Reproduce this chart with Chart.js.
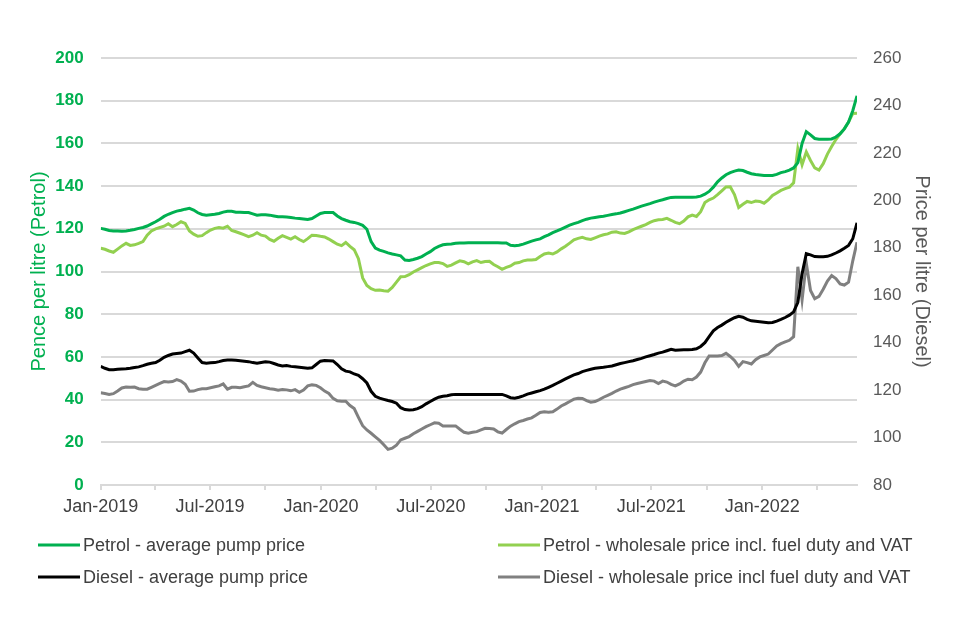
<!DOCTYPE html>
<html>
<head>
<meta charset="utf-8">
<script src="https://cdn.jsdelivr.net/npm/chart.js@4.4.1/dist/chart.umd.min.js"></script>
<style>
  html, body { margin: 0; padding: 0; background: #ffffff; }
  canvas { display: block; }
</style>
</head>
<body>
<canvas id="c" width="960" height="640" style="width:960px;height:640px"></canvas>
<script>
// ---- Data (weekly, Mondays from 7 Jan 2019 to 13 Jun 2022) ----
const firstWeek = '2019-01-07';
const weekCount = 180;

const seriesLabels = [
  'Petrol - average pump price',
  'Petrol - wholesale price incl. fuel duty and VAT',
  'Diesel - average pump price',
  'Diesel - wholesale price incl fuel duty and VAT'
];

const xTickLabels = ['Jan-2019', 'Jul-2019', 'Jan-2020', 'Jul-2020', 'Jan-2021', 'Jul-2021', 'Jan-2022'];

// Petrol, pence per litre (left axis)
const petrolPump = [
  120.2,119.8,119.2,119.0,119.0,118.9,119.0,119.3,119.7,120.2,
  120.6,121.3,122.3,123.3,124.5,125.8,126.8,127.6,128.3,128.7,
  129.2,129.6,128.8,127.5,126.7,126.4,126.6,126.8,127.2,127.8,
  128.2,128.2,127.8,127.8,127.6,127.6,127.0,126.4,126.6,126.6,
  126.4,126.0,125.6,125.6,125.5,125.3,125.0,124.8,124.6,124.4,
  124.8,126.0,127.2,127.6,127.6,127.6,126.0,124.8,124.0,123.3,
  123.0,122.4,121.6,119.8,114.0,111.0,110.0,109.4,108.7,108.2,
  107.8,107.3,105.4,105.2,105.6,106.2,107.0,108.2,109.3,110.8,
  111.8,112.5,112.8,112.9,113.2,113.4,113.4,113.5,113.5,113.5,
  113.5,113.5,113.5,113.5,113.5,113.4,113.4,112.3,112.1,112.3,
  112.8,113.5,114.2,114.8,115.3,116.3,117.2,118.2,119.0,119.9,
  120.8,121.7,122.4,123.0,123.8,124.5,125.0,125.3,125.6,125.9,
  126.3,126.7,127.0,127.4,128.0,128.6,129.2,129.9,130.6,131.2,
  131.8,132.5,133.1,133.6,134.2,134.7,134.8,134.8,134.8,134.8,
  134.8,134.9,135.3,136.2,137.5,139.5,142.0,143.8,145.3,146.3,
  147.0,147.5,147.3,146.5,145.8,145.4,145.2,145.0,145.0,145.0,
  145.5,146.3,146.8,147.5,148.5,151.0,160.0,165.5,164.0,162.3,
  162.0,162.0,162.0,162.1,163.0,164.5,166.8,170.0,175.3,182.3
];

const petrolWholesale = [
  110.9,110.4,109.6,109.0,110.5,112.0,113.2,112.2,112.5,113.2,
  114.0,117.0,119.0,120.0,120.6,121.2,122.4,121.0,122.0,123.3,
  122.5,119.0,117.5,116.5,116.8,118.2,119.4,120.2,120.6,120.3,
  121.2,119.2,118.6,117.9,117.2,116.3,117.0,118.2,117.0,116.6,
  115.0,114.2,115.6,116.8,116.0,115.2,116.3,115.0,114.0,115.4,
  117.0,116.9,116.5,116.2,115.2,114.0,112.8,112.1,113.6,111.8,
  110.2,106.0,97.0,93.5,92.0,91.2,91.3,91.0,90.8,92.5,
  95.0,97.5,97.6,98.5,99.8,100.8,101.8,102.8,103.6,104.2,
  104.2,103.7,102.4,103.0,104.0,105.0,104.6,103.6,104.5,105.1,
  104.2,104.7,104.8,103.3,102.2,101.0,101.9,102.6,103.9,104.2,
  105.0,105.4,105.4,105.6,107.0,108.2,108.6,108.2,109.2,110.6,
  111.8,113.3,114.8,115.5,116.0,115.3,115.0,115.8,116.6,117.2,
  117.6,118.4,118.6,118.0,117.8,118.6,119.6,120.4,121.2,122.0,
  123.0,123.8,124.2,124.4,124.9,124.0,123.0,122.4,123.6,125.6,
  126.4,125.8,128.0,132.3,133.6,134.4,136.0,137.8,139.6,139.7,
  136.0,130.0,131.5,132.8,132.3,133.0,132.8,132.0,133.5,135.6,
  136.8,138.0,138.8,139.5,141.5,157.5,150.0,156.0,152.0,148.5,
  147.5,150.5,155.0,158.5,161.8,164.5,166.8,170.0,174.0,174.1
];

// Diesel, pence per litre (right axis)
const dieselPump = [
  130.0,129.2,128.6,128.6,128.8,128.9,129.0,129.2,129.5,129.8,
  130.3,130.9,131.3,131.6,132.6,133.8,134.6,135.2,135.4,135.6,
  136.2,136.8,135.6,133.5,131.6,131.3,131.5,131.6,132.0,132.5,
  132.7,132.7,132.6,132.4,132.2,132.0,131.6,131.3,131.6,131.9,
  131.8,131.2,130.6,130.2,130.4,130.0,129.8,129.6,129.4,129.2,
  129.4,130.8,132.2,132.5,132.4,132.3,130.8,129.0,128.0,127.7,
  126.8,126.2,124.8,123.0,119.5,117.4,116.6,116.1,115.6,115.2,
  114.5,112.6,111.8,111.6,111.7,112.2,113.0,114.2,115.2,116.2,
  117.0,117.4,117.6,118.0,118.2,118.2,118.2,118.2,118.2,118.2,
  118.2,118.2,118.2,118.2,118.2,118.2,117.6,116.8,116.6,117.0,
  117.6,118.3,118.8,119.3,119.8,120.4,121.2,122.0,122.9,123.8,
  124.7,125.6,126.4,127.0,127.8,128.3,128.8,129.2,129.4,129.6,
  129.9,130.2,130.7,131.2,131.6,132.0,132.4,132.9,133.4,134.0,
  134.5,135.0,135.6,136.0,136.6,137.2,136.8,136.9,137.0,137.0,
  137.1,137.4,138.4,140.0,142.5,145.0,146.4,147.4,148.6,149.6,
  150.5,151.1,150.7,149.8,149.2,149.0,148.8,148.6,148.4,148.5,
  149.1,149.8,150.6,151.6,153.0,157.0,169.0,177.5,177.0,176.3,
  176.2,176.2,176.4,177.0,177.8,178.7,179.8,181.0,183.8,190.5
];

const dieselWholesale = [
  118.9,118.6,118.2,118.5,119.6,120.9,121.3,121.2,121.3,120.6,
  120.4,120.4,121.2,122.0,122.8,123.6,123.4,123.6,124.4,123.8,
  122.5,119.5,119.6,120.2,120.6,120.6,121.0,121.4,121.8,122.6,
  120.4,121.2,121.2,121.0,121.4,121.8,123.3,122.0,121.4,121.0,
  120.6,120.4,120.0,120.3,120.1,119.7,120.2,119.1,120.0,121.8,
  122.2,122.0,121.0,119.6,118.6,116.5,115.5,115.3,115.3,113.5,
  112.2,108.5,105.0,103.2,101.8,100.3,98.8,97.0,95.0,95.5,
  96.8,99.0,99.7,100.4,101.6,102.6,103.6,104.6,105.4,106.2,
  106.0,104.9,104.9,104.9,104.9,103.5,102.2,101.8,102.2,102.5,
  103.2,103.9,103.8,103.6,102.4,101.9,103.4,104.8,105.8,106.7,
  107.2,107.8,108.3,109.4,110.6,110.9,110.7,110.9,112.0,113.3,
  114.2,115.2,116.2,116.6,116.5,115.6,114.9,115.2,116.0,117.0,
  117.8,118.6,119.6,120.4,121.0,121.6,122.3,122.8,123.2,123.6,
  124.0,123.8,122.8,123.8,123.4,122.4,121.8,122.6,123.8,124.6,
  124.4,125.5,127.6,131.5,134.4,134.4,134.4,134.6,135.5,134.2,
  132.5,130.0,132.0,131.6,131.0,132.8,134.0,134.6,135.2,136.9,
  138.6,139.6,140.3,141.0,142.5,172.0,158.0,173.5,162.0,158.5,
  159.5,162.5,166.0,168.3,167.0,164.8,164.3,165.5,174.5,182.3
];

// ---- Helpers ----
const DAY = 86400000;
const t0 = Date.parse(firstWeek + 'T00:00:00Z');
const weekDates = [];
for (let i = 0; i < weekCount; i++) {
  weekDates.push(new Date(t0 + i * 7 * DAY).toISOString().slice(0, 10));
}
const dayOffset = d => Math.round((Date.parse(d + 'T00:00:00Z') - t0) / DAY);
const xDays = weekDates.map(dayOffset);
const toPoints = arr => arr.map((v, i) => ({ x: xDays[i], y: v }));

// quarterly tick positions (days from first week), labels on half-year ticks
const base = new Date(t0);
const quarterTicks = [];
for (let m = 0; ; m += 3) {
  const t = Date.UTC(base.getUTCFullYear(), base.getUTCMonth() + m, base.getUTCDate());
  const d = Math.round((t - t0) / DAY);
  if (d > xDays[xDays.length - 1]) break;
  quarterTicks.push({ value: d, label: (m % 6 === 0) ? xTickLabels[m / 6] : '' });
}

const colors = ['#00B050', '#92D050', '#000000', '#808080'];

Chart.defaults.font.family = '"Liberation Sans", Arial, Helvetica, sans-serif';

const legendPlugin = {
  id: 'gridLegend',
  afterDraw(chart) {
    const ctx = chart.ctx;
    const pos = [[38, 545], [498, 545], [38, 577], [498, 577]];
    ctx.save();
    ctx.font = '18px "Liberation Sans", Arial, sans-serif';
    ctx.textBaseline = 'middle';
    ctx.textAlign = 'left';
    chart.data.datasets.forEach((ds, i) => {
      const [x, y] = pos[i];
      ctx.strokeStyle = ds.borderColor;
      ctx.lineWidth = 3;
      ctx.beginPath();
      ctx.moveTo(x, y);
      ctx.lineTo(x + 42, y);
      ctx.stroke();
      ctx.fillStyle = '#404040';
      ctx.fillText(ds.label, x + 45, y + 1);
    });
    ctx.restore();
  }
};

new Chart(document.getElementById('c'), {
  type: 'line',
  data: {
    datasets: [
      { label: seriesLabels[0], data: toPoints(petrolPump), yAxisID: 'y', borderColor: colors[0] },
      { label: seriesLabels[1], data: toPoints(petrolWholesale), yAxisID: 'y', borderColor: colors[1] },
      { label: seriesLabels[2], data: toPoints(dieselPump), yAxisID: 'y1', borderColor: colors[2] },
      { label: seriesLabels[3], data: toPoints(dieselWholesale), yAxisID: 'y1', borderColor: colors[3] }
    ].map(d => Object.assign(d, { borderWidth: 3, pointRadius: 0, tension: 0, fill: false }))
  },
  plugins: [legendPlugin],
  options: {
    responsive: false,
    animation: false,
    events: [],
    layout: { padding: { top: 58, bottom: 125, left: 0, right: 0 } },
    plugins: { legend: { display: false }, tooltip: { enabled: false } },
    scales: {
      x: {
        type: 'linear',
        min: 0,
        max: xDays[xDays.length - 1],
        afterBuildTicks: s => { s.ticks = quarterTicks.map(t => ({ value: t.value })); },
        afterFit: s => { s.height = 30; },
        ticks: {
          autoSkip: false,
          maxRotation: 0,
          padding: 6,
          color: '#404040',
          font: { size: 18 },
          callback: v => { const t = quarterTicks.find(q => q.value === v); return t ? t.label : ''; }
        },
        grid: { drawOnChartArea: false, drawTicks: true, tickLength: 5, color: '#D9D9D9', lineWidth: 2 },
        border: { display: true, color: '#D9D9D9', width: 2 }
      },
      y: {
        position: 'left',
        min: 0, max: 200,
        afterFit: s => { s.width = 100.7; },
        ticks: { stepSize: 20, padding: 17, color: '#00B050', font: { size: 17, weight: 'bold' } },
        grid: { color: '#D9D9D9', lineWidth: 2, drawTicks: false },
        border: { display: false },
        title: { display: true, text: 'Pence per litre (Petrol)', color: '#00B050', font: { size: 20 }, padding: { top: 27, bottom: 0 } }
      },
      y1: {
        position: 'right',
        min: 80, max: 260,
        afterFit: s => { s.width = 103; },
        ticks: { stepSize: 20, padding: 16, color: '#595959', font: { size: 17 } },
        grid: { drawOnChartArea: false, drawTicks: false },
        border: { display: false },
        title: { display: true, text: 'Price per litre (Diesel)', color: '#595959', font: { size: 20 }, padding: { top: 26, bottom: 0 } }
      }
    }
  }
});
</script>
</body>
</html>
